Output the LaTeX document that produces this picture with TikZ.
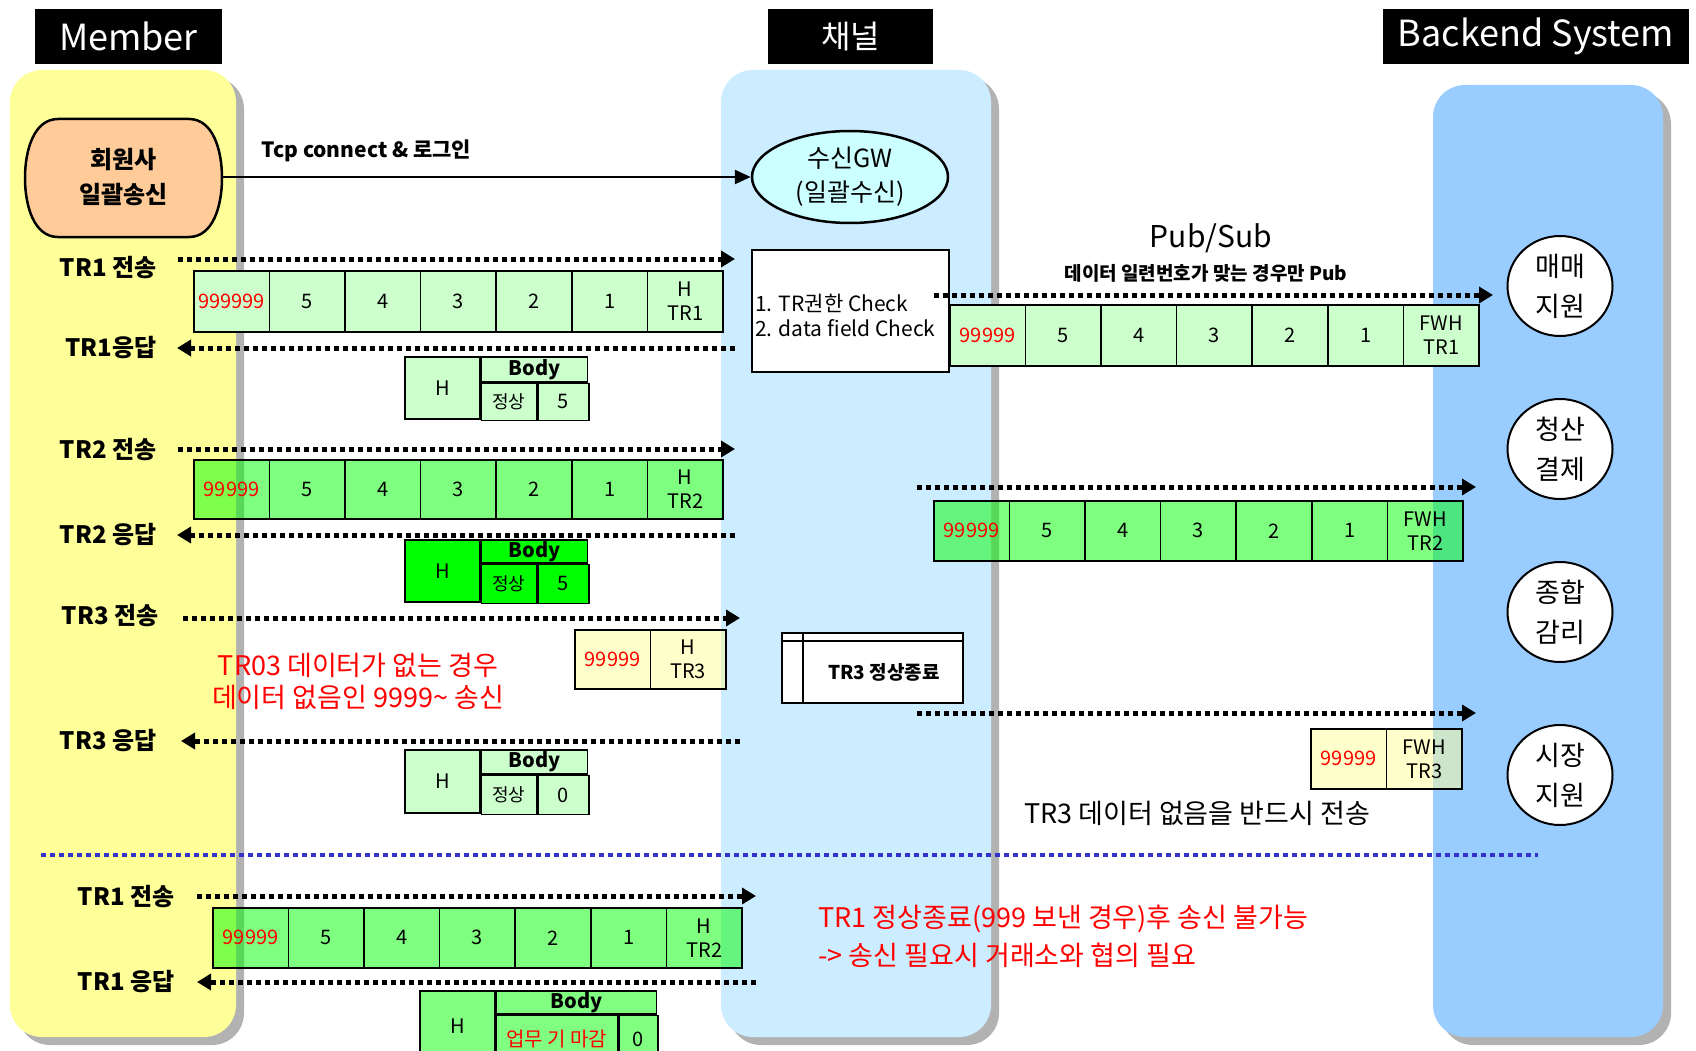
\documentclass[tikz,border=0pt]{standalone}
\usepackage{fontspec}
\setmainfont{Noto Sans CJK KR}
\usetikzlibrary{arrows.meta,shapes.geometric,calc}
\definecolor{laneY}{HTML}{FFFF99}
\definecolor{laneC}{HTML}{CCECFF}
\definecolor{laneB}{HTML}{99CCFF}
\definecolor{shad}{HTML}{B2B2B2}
\definecolor{peach}{HTML}{FFCC99}
\definecolor{cyanL}{HTML}{CCFFFF}
\definecolor{lgreen}{HTML}{CCFFCC}
\definecolor{mgreen}{HTML}{80FF80}
\definecolor{bgreen}{HTML}{00FF00}
\definecolor{sepblue}{HTML}{3333CC}
\newcommand{\myfs}[1]{\fontsize{#1}{#1}\selectfont}
\newcommand{\rd}[1]{\textcolor{red}{#1}}
\tikzset{
  hdr/.style={fill=black, text=white, inner sep=0, minimum height=55pt, font=\myfs{36}},
  cell/.style={draw=black, line width=1.6pt, minimum width=75.6pt, inner sep=0, anchor=north west, font=\fontsize{20}{24}\selectfont, align=center},
  gfill/.style={fill=bgreen, fill opacity=0.5, text opacity=1},
  yfill/.style={fill=laneY, fill opacity=0.5, text opacity=1},
  rc/.style={draw=black, line width=1.6pt, inner sep=0, anchor=north west, font=\myfs{20}},
  dotar/.style={line width=5pt, dash pattern=on 5pt off 4pt, -{Triangle[length=14pt,width=16pt]}},
  lab/.style={font=\bfseries\myfs{24}, anchor=east},
  sys/.style={ellipse, draw, line width=2pt, fill=white, minimum width=105pt, minimum height=100pt, inner sep=0, align=center, font=\fontsize{27}{40}\selectfont},
}
\newcommand{\trow}[6]{%
  \foreach [count=\i from 0] \t in {#6} {\node[cell, #5, minimum height=#4] (#1-\i) at ({#2+\i*75.6},#3) {\t};}}
\begin{document}
\begin{tikzpicture}[x=1pt,y=-1pt]
\useasboundingbox (0,0) rectangle (1696,1051);
\fill[white] (0,0) rectangle (1696,1051);
% lanes
\fill[shad, rounded corners=32pt] (18,77) rectangle (244,1045);
\fill[laneY, rounded corners=32pt] (10,70) rectangle (236,1037);
\fill[shad, rounded corners=32pt] (729,77) rectangle (999,1045);
\fill[laneC, rounded corners=32pt] (721,70) rectangle (991,1037);
\fill[shad, rounded corners=32pt] (1441,92) rectangle (1671,1045);
\fill[laneB, rounded corners=32pt] (1433,85) rectangle (1663,1037);
% headers
\node[hdr, minimum width=187pt] (hm) at (128.5,36.5) {Member};
\node[hdr, minimum width=165pt, font=\myfs{32}] (hc) at (850.5,36.5) {채널};
\node[hdr, minimum width=306pt] (hb) at (1536,36.5) {Backend System};
% member box
\draw[line width=2.5pt, fill=peach] (58,119) -- (189,119) .. controls (213,119) and (222,150) .. (222,178) .. controls (222,206) and (213,237) .. (189,237) -- (58,237) .. controls (34,237) and (25,206) .. (25,178) .. controls (25,150) and (34,119) .. (58,119) -- cycle;
\node[minimum width=197pt, minimum height=118pt, inner sep=0, align=center, font=\bfseries\fontsize{24}{35}\selectfont] (mem) at (123.5,177) {회원사\\일괄송신};
\node[ellipse, draw, line width=2.5pt, fill=cyanL, minimum width=196pt, minimum height=92pt, inner sep=0, align=center, font=\fontsize{25}{34}\selectfont] (gw) at (850,177) {수신GW\\(일괄수신)};
\draw[line width=2.5pt, -{Triangle[length=16pt,width=14pt]}] (mem.east) -- (gw.west);
\node[font=\bfseries\myfs{21}, anchor=west] (tcp) at (258,151) {Tcp connect \& 로그인};
% check box
\node[draw, line width=2.2pt, fill=white, minimum width=197pt, minimum height=122pt, inner sep=0] (chk) at (850.5,311) {};
\node[anchor=west, align=left, inner sep=0, font=\fontsize{21}{25}\selectfont] (chkt) at (755,315) {1. TR권한 Check\\2. data field Check};
% backend systems
\node[sys] (e1) at (1560,286) {매매\\지원};
\node[sys] (e2) at (1560,449) {청산\\결제};
\node[sys] (e3) at (1560,612) {종합\\감리};
\node[sys] (e4) at (1560,775) {시장\\지원};
% labels
\node[lab] (l1) at (160,268) {TR1 전송};
\node[lab] (l2) at (160,348) {TR1응답};
\node[lab] (l3) at (160,450) {TR2 전송};
\node[lab] (l4) at (160,535) {TR2 응답};
\node[lab] (l5) at (162,616) {TR3 전송};
\node[lab] (l6) at (160,741) {TR3 응답};
\node[lab] (l7) at (178,897) {TR1 전송};
\node[lab] (l8) at (178,982) {TR1 응답};
% rows
\trow{ra}{193}{270}{61}{fill=lgreen}{{\rd{999999}},5,4,3,2,1,{H\\TR1}}
\trow{rb}{193}{459}{59}{gfill}{{\rd{99999}},5,4,3,2,1,{H\\TR2}}
\trow{pa}{949}{304}{61}{fill=lgreen}{{\rd{99999}},5,4,3,2,1,{FWH\\TR1}}
\trow{pb}{933}{500}{60}{gfill}{{\rd{99999}},5,4,3,2,1,{FWH\\TR2}}
\trow{rc}{574}{629}{59}{yfill}{{\rd{99999}},{H\\TR3}}
\trow{pc}{1310}{728}{60}{yfill}{{\rd{99999}},{FWH\\TR3}}
\trow{rd}{212}{907}{60}{gfill}{{\rd{99999}},5,4,3,2,1,{H\\TR2}}
% responses
\node[rc, fill=lgreen, minimum width=75pt, minimum height=62pt] (a1h) at (404,356) {H};
\node[rc, fill=lgreen, minimum width=106pt, minimum height=25pt, font=\bfseries\myfs{20}] (a1b) at (a1h.north east) {Body};
\node[rc, fill=lgreen, minimum width=55pt, minimum height=37pt, font=\myfs{18}] (a1s) at (a1b.south west) {정상};
\node[rc, fill=lgreen, minimum width=51pt, minimum height=37pt] (a1n) at (a1s.north east) {5};
\node[rc, fill=bgreen, minimum width=75pt, minimum height=62pt] (a2h) at (404,539) {H};
\node[rc, fill=bgreen, minimum width=106pt, minimum height=23pt, font=\bfseries\myfs{20}] (a2b) at (a2h.north east) {Body};
\node[rc, fill=bgreen, minimum width=55pt, minimum height=39pt, font=\myfs{18}] (a2s) at (a2b.south west) {정상};
\node[rc, fill=bgreen, minimum width=51pt, minimum height=39pt] (a2n) at (a2s.north east) {5};
\node[rc, fill=lgreen, minimum width=75pt, minimum height=63pt] (a3h) at (404,749) {H};
\node[rc, fill=lgreen, minimum width=106pt, minimum height=24pt, font=\bfseries\myfs{20}] (a3b) at (a3h.north east) {Body};
\node[rc, fill=lgreen, minimum width=55pt, minimum height=39pt, font=\myfs{18}] (a3s) at (a3b.south west) {정상};
\node[rc, fill=lgreen, minimum width=51pt, minimum height=39pt] (a3n) at (a3s.north east) {0};
\node[rc, fill=mgreen, minimum width=75pt, minimum height=70pt] (a4h) at (419,990) {H};
\node[rc, fill=mgreen, minimum width=160pt, minimum height=23pt, font=\bfseries\myfs{20}] (a4b) at (a4h.north east) {Body};
\node[rc, fill=mgreen, minimum width=121pt, minimum height=47pt, font=\myfs{20}, text=red] (a4s) at (a4b.south west) {업무 기 마감};
\node[rc, fill=mgreen, minimum width=39pt, minimum height=47pt] (a4n) at (a4s.north east) {0};
% TR3 end box
\node[draw, line width=2.2pt, fill=white, minimum width=181pt, minimum height=70pt, inner sep=0] (t3end) at (872.5,668) {};
\draw[line width=2.2pt] ($(t3end.north west)+(0,9)$) -- ($(t3end.north east)+(0,9)$);
\draw[line width=2.2pt] ($(t3end.north west)+(22,0)$) -- ($(t3end.south west)+(22,0)$);
\node[font=\bfseries\myfs{19}] (t3t) at (884,672) {TR3 정상종료};
% arrows
\coordinate (s1a) at (178,259); \coordinate (s1b) at (735,259);
\coordinate (q1a) at (735,348); \coordinate (q1b) at (177,348);
\coordinate (s2a) at (178,449); \coordinate (s2b) at (735,449);
\coordinate (q2a) at (735,535); \coordinate (q2b) at (177,535);
\coordinate (s3a) at (183,618); \coordinate (s3b) at (740,618);
\coordinate (q3a) at (740,741); \coordinate (q3b) at (181,741);
\coordinate (p1a) at (934,295); \coordinate (p1b) at (1493,295);
\coordinate (p2a) at (917,487); \coordinate (p2b) at (1476,487);
\coordinate (p3a) at (917,713); \coordinate (p3b) at (1476,713);
\coordinate (s4a) at (197,896); \coordinate (s4b) at (756,896);
\coordinate (q4a) at (756,982); \coordinate (q4b) at (197,982);
\foreach \a/\b in {s1a/s1b,q1a/q1b,s2a/s2b,q2a/q2b,s3a/s3b,q3a/q3b,p1a/p1b,p2a/p2b,p3a/p3b,s4a/s4b,q4a/q4b}
  \draw[dotar] (\a) -- (\b);
% separator
\coordinate (sepa) at (41,855); \coordinate (sepb) at (1538,855);
\draw[sepblue, line width=4pt, dash pattern=on 5pt off 4pt] (sepa) -- (sepb);
% texts
\node[font=\myfs{30}] (ps) at (1211,238) {Pub/Sub};
\node[font=\bfseries\myfs{19}] (pst) at (1206,273) {데이터 일련번호가 맞는 경우만 Pub};
\node[align=center, text=red, font=\fontsize{27}{32}\selectfont] (n1) at (358,681) {TR03 데이터가 없는 경우\\데이터 없음인 9999\textasciitilde{} 송신};
\node[font=\myfs{27}] (n2) at (1197,813) {TR3 데이터 없음을 반드시 전송};
\node[anchor=west, align=left, text=red, font=\fontsize{27}{38}\selectfont] (n3) at (815,936) {TR1 정상종료(999 보낸 경우)후 송신 불가능\\-> 송신 필요시 거래소와 협의 필요};
\end{tikzpicture}
\end{document}
